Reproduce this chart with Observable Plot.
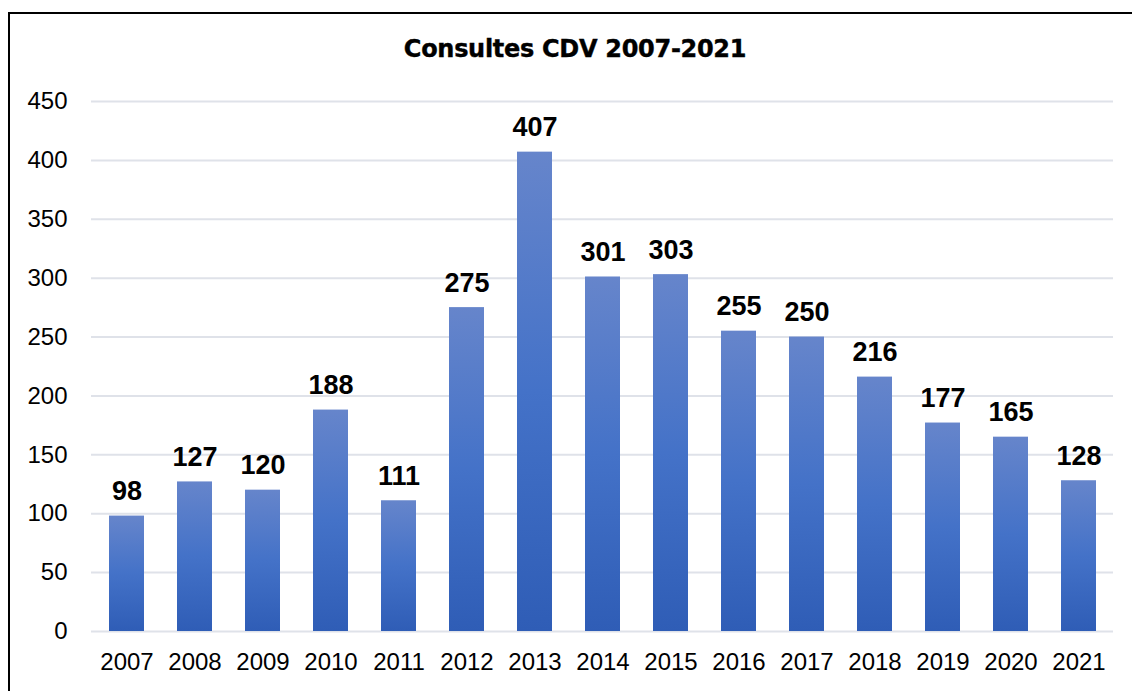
<!DOCTYPE html>
<html>
<head>
<meta charset="utf-8">
<script src="https://cdn.jsdelivr.net/npm/d3@7"></script>
<script src="https://cdn.jsdelivr.net/npm/@observablehq/plot@0.6"></script>
<style>
  html, body { margin: 0; padding: 0; background: #fff; }
  #wrap { position: relative; width: 1132px; height: 691px; overflow: hidden; background: #fff; }
  #frame { position: absolute; left: 8px; top: 12px; width: 1140px; height: 700px; border: 2px solid #000; box-sizing: border-box; }
  #title { position: absolute; left: 575px; top: 35px; transform: translateX(-50%); font-family: "DejaVu Sans", sans-serif; font-weight: bold; font-size: 24px; color: #000; white-space: nowrap; letter-spacing: -0.3px; -webkit-text-stroke: 0.4px #000; }
  #chart { position: absolute; left: 0; top: 0; }
</style>
</head>
<body>
<div id="wrap">
  <div id="frame"></div>
  <div id="title">Consultes CDV 2007-2021</div>
  <div id="chart"></div>
</div>
<script>
const years = ["2007","2008","2009","2010","2011","2012","2013","2014","2015","2016","2017","2018","2019","2020","2021"];
const counts = [98,127,120,188,111,275,407,301,303,255,250,216,177,165,128];
const yTicks = [0,50,100,150,200,250,300,350,400,450];

const data = years.map((y, i) => ({year: y, value: counts[i]}));

const gradientDefs = () => {
  const ns = "http://www.w3.org/2000/svg";
  const defs = document.createElementNS(ns, "defs");
  const lg = document.createElementNS(ns, "linearGradient");
  lg.setAttribute("id", "barGrad");
  lg.setAttribute("x1", "0"); lg.setAttribute("y1", "0");
  lg.setAttribute("x2", "0"); lg.setAttribute("y2", "1");
  [["0%", "#6685cb"], ["50%", "#4472c8"], ["100%", "#2f5db6"]].forEach(([o, c]) => {
    const s = document.createElementNS(ns, "stop");
    s.setAttribute("offset", o);
    s.setAttribute("stop-color", c);
    lg.appendChild(s);
  });
  defs.appendChild(lg);
  return defs;
};

const chart = Plot.plot({
  width: 1132,
  height: 691,
  marginLeft: 91,
  marginRight: 19,
  marginTop: 101,
  marginBottom: 60,
  style: { background: "transparent", fontFamily: "Liberation Sans, Arial, sans-serif" },
  x: { domain: years, paddingInner: 0.49, paddingOuter: 0.245, align: 0.5, label: null },
  y: { domain: [0, 450], label: null },
  marks: [
    gradientDefs,
    Plot.ruleY(yTicks, { stroke: "#dfe2e9", strokeWidth: 2 }),
    Plot.barY(data, { x: "year", y: "value", fill: "url(#barGrad)" }),
    Plot.text(data, {
      x: "year", y: "value", text: d => String(d.value),
      lineAnchor: "bottom", dy: -16,
      fontFamily: "Liberation Sans, Arial, sans-serif",
      fontWeight: "bold", fontSize: 27, fill: "#000",
      ariaLabel: "value-labels"
    }),
    Plot.axisY(yTicks, { tickSize: 0, tickPadding: 24, fontSize: 24, fill: "#000", label: null }),
    Plot.axisX({ tickSize: 0, tickPadding: 21, fontSize: 24, fill: "#000", label: null })
  ]
});

// condense the value labels horizontally (narrow bold look)
chart.querySelectorAll('g[aria-label="value-labels"] text').forEach(t => {
  const tr = t.getAttribute("transform");
  if (tr && tr.includes("translate")) {
    t.setAttribute("transform", tr + " scale(0.87,1)");
  } else {
    const x = +t.getAttribute("x") || 0, y = +t.getAttribute("y") || 0;
    t.setAttribute("x", 0); t.setAttribute("y", 0);
    t.setAttribute("transform", `translate(${x},${y}) scale(0.87,1)`);
  }
});

document.getElementById("chart").appendChild(chart);
</script>
</body>
</html>
